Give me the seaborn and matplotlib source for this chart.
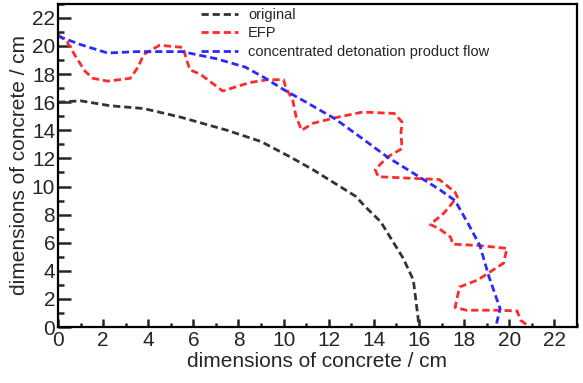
import matplotlib
matplotlib.use("Agg")
import matplotlib.pyplot as plt
import seaborn as sns
import pandas as pd
from matplotlib.ticker import MultipleLocator

# ---- data ----
orig_x = [0.0, 1.0, 2.3, 3.8, 5.4, 7.5, 9.0, 10.3, 11.3, 12.1, 13.2, 13.6, 14.3, 14.8, 15.3, 15.75, 15.95, 16.0]
orig_y = [16.0, 16.1, 15.75, 15.55, 14.95, 14.0, 13.2, 12.1, 11.2, 10.4, 9.3, 8.6, 7.5, 6.2, 4.9, 3.35, 0.8, 0.0]

efp_x = [0.0, 0.4, 0.8, 1.2, 1.55, 2.2, 3.2, 3.55, 3.8, 4.5, 5.55, 5.7, 5.85, 6.3, 7.3, 8.5, 9.3, 10.0,
         10.1, 10.4, 10.55, 10.8, 11.3, 12.3, 13.5, 14.9, 15.25, 15.2, 15.25, 14.6, 14.06, 14.2, 15.5,
         16.9, 17.6, 17.7, 17.1, 16.5, 16.9, 17.4, 17.5, 18.7, 19.9, 19.75, 18.6, 17.8, 17.6, 18.1,
         19.5, 20.35, 20.5, 20.9]
efp_y = [20.8, 20.3, 19.2, 18.2, 17.7, 17.5, 17.7, 18.5, 19.4, 20.05, 19.9, 19.0, 18.3, 18.0, 16.8, 17.4, 17.6, 17.6,
         17.0, 16.2, 15.0, 14.0, 14.5, 14.9, 15.3, 15.2, 14.6, 13.8, 12.7, 12.1, 11.2, 10.7, 10.6,
         10.5, 9.6, 9.25, 8.1, 7.3, 7.0, 6.4, 5.9, 5.8, 5.6, 4.55, 3.35, 2.85, 1.4, 1.2,
         1.2, 1.15, 0.5, 0.0]

flow_x = [0.0, 1.0, 2.2, 3.5, 5.5, 7.0, 8.3, 9.2, 10.0, 11.0, 12.3, 13.5, 14.6, 15.7, 16.9, 17.6, 18.2, 18.7, 19.1, 19.6, 19.4]
flow_y = [20.7, 20.1, 19.5, 19.6, 19.6, 19.1, 18.5, 17.7, 16.9, 16.0, 14.8, 13.4, 12.1, 11.0, 9.8, 9.0, 7.3, 5.8, 3.6, 1.3, 0.0]

labels = ["original", "EFP", "concentrated detonation product flow"]
colors = ["#333333", "#ff2a2a", "#2a2aff"]

x_ticks = list(range(0, 23, 2))
y_ticks = list(range(0, 23, 2))

# ---- plot ----
sns.set_style("ticks")
plt.rcParams["font.family"] = ["Liberation Sans", "DejaVu Sans"]

fig = plt.figure(figsize=(5.83, 3.83), dpi=100)
ax = fig.add_axes([0.0995, 0.146, 0.890, 0.844])

series = [(orig_x, orig_y), (efp_x, efp_y), (flow_x, flow_y)]
for (xs, ys), lab, col in zip(series, labels, colors):
    df = pd.DataFrame({"x": xs, "y": ys})
    sns.lineplot(data=df, x="x", y="y", sort=False, estimator=None, ax=ax,
                 color=col, label=lab, linewidth=2.0, linestyle=(0, (2.6, 1.4)))

ax.set_xlim(0, 23)
ax.set_ylim(0, 23)
ax.set_xticks(x_ticks)
ax.set_yticks(y_ticks)
ax.xaxis.set_minor_locator(MultipleLocator(1))
ax.yaxis.set_minor_locator(MultipleLocator(1))
ax.tick_params(axis="x", which="major", direction="in", length=6, width=1.8, labelsize=15, pad=3, top=False)
ax.tick_params(axis="x", which="minor", direction="in", length=3, width=1.8, top=False)
ax.tick_params(axis="y", which="major", direction="in", length=9, width=1.8, labelsize=15, pad=2, right=False)
ax.tick_params(axis="y", which="minor", direction="in", length=4.5, width=1.8, right=False)

for s in ax.spines.values():
    s.set_visible(True)
    s.set_linewidth(1.6)
    s.set_color("black")

ax.set_xlabel("dimensions of concrete / cm", fontsize=15, labelpad=1)
ax.set_ylabel("dimensions of concrete / cm", fontsize=15, labelpad=2)

leg = ax.legend(loc="upper left", bbox_to_anchor=(0.265, 1.005), frameon=False, fontsize=10.5,
                handlelength=2.5, labelspacing=0.3, handletextpad=0.7, borderaxespad=0.0)

fig.savefig("out.png", dpi=100)
